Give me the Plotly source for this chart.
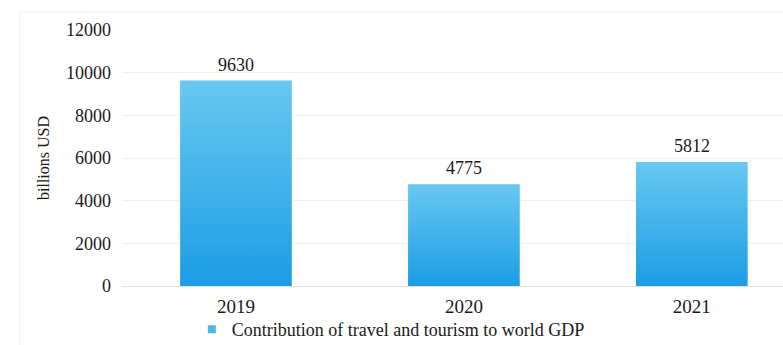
import plotly.graph_objects as go

# Contribution of travel and tourism to world GDP (billions USD)
years = ["2019", "2020", "2021"]
values = [9630, 4775, 5812]
y_ticks = [0, 2000, 4000, 6000, 8000, 10000, 12000]
series_name = "Contribution of travel and tourism to world GDP"

bar_width = 0.49
font_family = "Liberation Serif, Times New Roman, serif"
text_color = "#1a1a1a"
grad = [[0.0, "#1b9de5"], [1.0, "#68c8f1"]]

fig = go.Figure()

# each bar is a filled polygon so it can carry a vertical gradient
for i, v in enumerate(values):
    x0, x1 = i - bar_width / 2, i + bar_width / 2
    fig.add_trace(go.Scatter(
        x=[x0, x1, x1, x0, x0],
        y=[0, 0, v, v, 0],
        mode="none",
        fill="toself",
        fillgradient=dict(type="vertical", colorscale=grad),
        showlegend=False,
        hoverinfo="skip",
    ))

# legend entry with a small square swatch
fig.add_trace(go.Scatter(
    x=[None], y=[None],
    mode="markers",
    marker=dict(symbol="square", size=8, color="#4ab9ef"),
    name=series_name,
    showlegend=True,
))

# value labels above the bars
annotations = [
    dict(x=i, y=v, xref="x", yref="y", text=str(v), showarrow=False,
         yanchor="bottom", yshift=4,
         font=dict(family=font_family, size=18, color=text_color))
    for i, v in enumerate(values)
]

fig.update_layout(
    width=783,
    height=345,
    margin=dict(l=122, r=0, t=30, b=59, autoexpand=False),
    paper_bgcolor="white",
    plot_bgcolor="white",
    font=dict(family=font_family, size=18, color=text_color),
    showlegend=True,
    legend=dict(
        orientation="h",
        xref="container", yref="container",
        x=0.245, xanchor="left",
        y=0.045, yanchor="middle",
        font=dict(family=font_family, size=18, color=text_color),
        itemwidth=30,
        bgcolor="rgba(0,0,0,0)",
    ),
    annotations=annotations,
    xaxis=dict(
        range=[-0.5, 2.4],
        tickmode="array",
        tickvals=list(range(len(years))),
        ticktext=years,
        showgrid=False,
        zeroline=False,
        showline=False,
        ticks="",
        ticklabelstandoff=7,
        tickfont=dict(family=font_family, size=19, color=text_color),
        fixedrange=True,
    ),
    yaxis=dict(
        range=[0, 12000],
        tickmode="array",
        tickvals=y_ticks,
        ticktext=[str(t) for t in y_ticks],
        showgrid=True,
        gridcolor="#efefef",
        gridwidth=1,
        zeroline=True,
        zerolinecolor="#e4e4e4",
        zerolinewidth=1,
        showline=False,
        ticks="",
        ticklabelstandoff=10,
        tickfont=dict(family=font_family, size=18, color=text_color),
        title=dict(text="billions USD", font=dict(family=font_family, size=16, color=text_color), standoff=12),
        fixedrange=True,
    ),
    shapes=[
        # faint chart-area border (top and left edges)
        dict(type="line", xref="paper", yref="paper", x0=-0.155, x1=1.0, y0=1.07, y1=1.07,
             line=dict(color="#f0f0f0", width=1)),
        dict(type="line", xref="paper", yref="paper", x0=-0.155, x1=-0.155, y0=-0.25, y1=1.07,
             line=dict(color="#f0f0f0", width=1)),
    ],
)

fig.write_html("out.html")
